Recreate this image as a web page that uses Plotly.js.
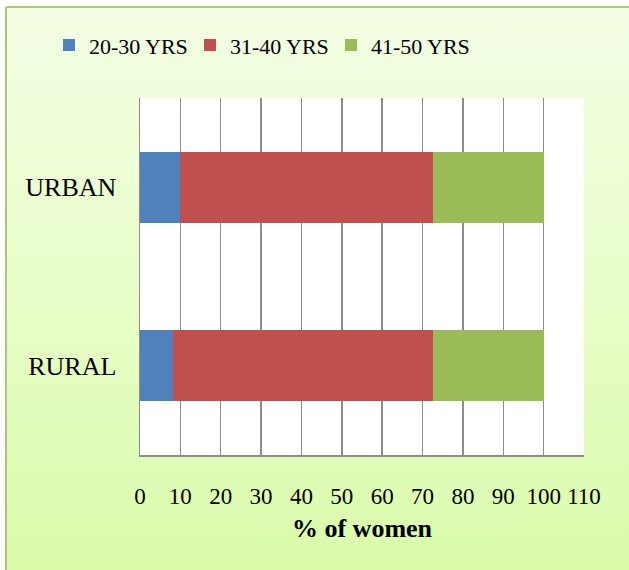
<!DOCTYPE html>
<html>
<head>
<meta charset="utf-8">
<script src="https://cdn.plot.ly/plotly-3.0.1.min.js"></script>
<style>
  html, body { margin: 0; padding: 0; background: #ffffff; }
  #wrap { position: relative; width: 629px; height: 570px; overflow: hidden; }
  #bg { position: absolute; left: 5px; top: 6px; width: 640px; height: 580px;
        border: 2px solid #a8c878; border-radius: 3px;
        background: linear-gradient(to bottom, #f3fde4 0%, #e8fdc8 50%, #d9fba8 100%); }
  #chart { position: absolute; left: 0; top: 0; width: 629px; height: 570px; }
</style>
</head>
<body>
<div id="wrap">
  <div id="bg"></div>
  <div id="chart"></div>
</div>
<script>
const categories = ['RURAL', 'URBAN'];
const seriesNames = ['20-30 YRS', '31-40 YRS', '41-50 YRS'];
const age20to30 = [8.1, 9.9];
const age31to40 = [64.6, 62.6];
const age41to50 = [27.3, 27.5];
const colors = ['#4f81bd', '#c0504d', '#9bbb59'];
const xTicks = [0, 10, 20, 30, 40, 50, 60, 70, 80, 90, 100, 110];

const seriesValues = [age20to30, age31to40, age41to50];
const traces = seriesValues.map((vals, i) => ({
  type: 'bar',
  orientation: 'h',
  name: seriesNames[i],
  y: categories,
  x: vals,
  marker: { color: colors[i], line: { width: 0 } },
  hoverinfo: 'x+name'
}));

const font = 'Liberation Serif';
const layout = {
  width: 629, height: 570,
  paper_bgcolor: 'rgba(0,0,0,0)',
  plot_bgcolor: '#ffffff',
  barmode: 'stack',
  bargap: 0.6,
  margin: { l: 140, r: 45, t: 98, b: 115 },
  font: { family: font, color: '#000000', size: 22 },
  showlegend: true,
  legend: {
    orientation: 'h', x: -0.205, xanchor: 'left', y: 1.148, yanchor: 'middle',
    entrywidth: 96, entrywidthmode: 'pixels',
    font: { family: font, size: 22, color: '#000' },
    bgcolor: 'rgba(0,0,0,0)', traceorder: 'normal'
  },
  xaxis: {
    range: [0, 110], tickvals: xTicks, ticktext: xTicks.map(String),
    showgrid: true, gridcolor: '#8c8c8c', gridwidth: 1.5,
    showline: true, linecolor: '#8c8c8c', linewidth: 1.5,
    zeroline: false, ticks: '', ticklabelstandoff: 20,
    tickfont: { family: font, size: 23, color: '#000' },
    title: { text: '<b>% of women</b>', font: { family: font, size: 26, color: '#000' }, standoff: 10 },
    fixedrange: true
  },
  yaxis: {
    categoryorder: 'array', categoryarray: categories,
    showline: true, linecolor: '#8c8c8c', linewidth: 1.5,
    showgrid: false, zeroline: false, ticks: '', ticklabelstandoff: 17,
    tickfont: { family: font, size: 26, color: '#000' },
    fixedrange: true
  }
};

Plotly.newPlot('chart', traces, layout, { displayModeBar: false, staticPlot: true });
</script>
</body>
</html>
